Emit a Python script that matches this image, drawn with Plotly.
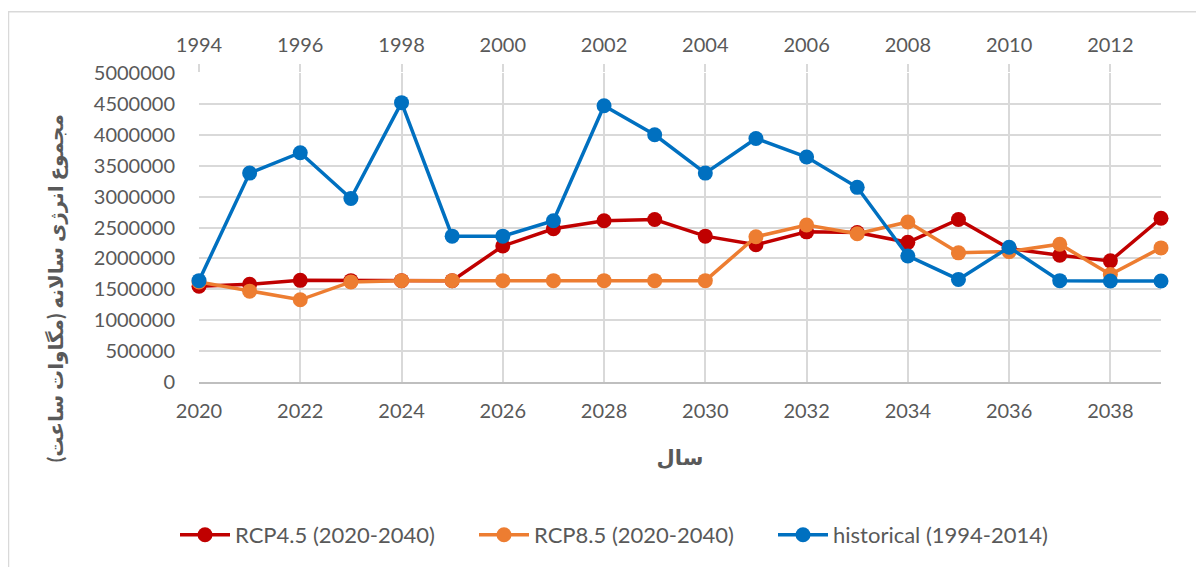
import plotly.graph_objects as go

years_future = list(range(2020, 2040))
years_hist = list(range(1994, 2014))

rcp45 = [1550000, 1580000, 1645000, 1640000, 1640000, 1640000, 2200000, 2480000, 2610000, 2630000,
         2360000, 2220000, 2430000, 2420000, 2260000, 2630000, 2160000, 2050000, 1960000, 2650000]
rcp85 = [1620000, 1470000, 1330000, 1620000, 1640000, 1640000, 1640000, 1640000, 1640000, 1640000,
         1640000, 2350000, 2540000, 2400000, 2590000, 2090000, 2110000, 2230000, 1740000, 2170000]
historical = [1640000, 3380000, 3710000, 2970000, 4520000, 2360000, 2360000, 2610000, 4470000, 4000000,
              3380000, 3940000, 3640000, 3150000, 2040000, 1660000, 2180000, 1640000, 1635000, 1635000]

names = ["RCP4.5 (2020-2040)", "RCP8.5 (2020-2040)", "historical (1994-2014)"]
colors = ["#C00000", "#ED7D31", "#0070C0"]

y_title = "مجموع انرژی سالانه (مگاوات ساعت)"
x_title = "سال"

FONT = "Lato, DejaVu Sans, sans-serif"
TXT = "#595959"
GRID = "#D9D9D9"

fig = go.Figure()
for vals, nm, col in [(rcp45, names[0], colors[0]), (rcp85, names[1], colors[1])]:
    fig.add_trace(go.Scatter(x=years_future, y=vals, name=nm, mode="lines+markers",
                             line=dict(color=col, width=3.5), marker=dict(size=15, color=col),
                             cliponaxis=False, xaxis="x", yaxis="y"))
fig.add_trace(go.Scatter(x=years_hist, y=historical, name=names[2], mode="lines+markers",
                         line=dict(color=colors[2], width=3.5), marker=dict(size=15, color=colors[2]),
                         cliponaxis=False, xaxis="x2", yaxis="y"))

# page body has an 8px margin; size the figure so the plot area lands where the reference has it
OFF = 8
W, H = 1204 - OFF, 567 - OFF
L, R, T, B = 199 - OFF, 43, 73 - OFF, 184
pw, ph = W - L - R, H - T - B


def px_x(p):
    return (p - OFF - L) / pw


def px_y(p):
    return (ph - (p - OFF - T)) / ph


fig.update_layout(
    width=W, height=H,
    margin=dict(l=L, r=R, t=T, b=B),
    paper_bgcolor="white", plot_bgcolor="white",
    font=dict(family=FONT, size=20, color=TXT),
    showlegend=True,
    legend=dict(orientation="h", x=px_x(175), xanchor="left",
                y=px_y(535), yanchor="middle",
                font=dict(size=22, color=TXT), entrywidth=234, entrywidthmode="pixels",
                itemwidth=50, traceorder="normal"),
    xaxis=dict(range=[2020, 2039], tick0=2020, dtick=2, showgrid=True, gridcolor=GRID, gridwidth=1.5,
               showline=True, linecolor="#BFBFBF", linewidth=1.5, ticks="", zeroline=False,
               ticklabelstandoff=10,
               title=dict(text="<b>" + x_title + "</b>", font=dict(size=21, color=TXT, family=FONT),
                          standoff=30)),
    xaxis2=dict(range=[1994, 2013], tick0=1994, dtick=2, overlaying="x", side="top", anchor="y",
                showgrid=False, ticks="outside", ticklen=8, tickcolor=GRID, tickwidth=1.5,
                showline=False, zeroline=False, ticklabelstandoff=4),
    yaxis=dict(range=[0, 5000000], dtick=500000, tickformat="d", showgrid=True, gridcolor=GRID,
               gridwidth=1.5, zeroline=False, showline=False, ticks="", ticklabelstandoff=23),
    annotations=[dict(text="<b>" + y_title + "</b>", textangle=-90, xref="paper", yref="paper",
                      x=px_x(55), y=px_y(289), xanchor="center", yanchor="middle",
                      showarrow=False, font=dict(size=20, color=TXT, family=FONT))],
    shapes=[dict(type="rect", xref="paper", yref="paper",
                 x0=px_x(8.5), x1=px_x(1240), y0=-2, y1=px_y(11.5),
                 line=dict(color=GRID, width=1.5), fillcolor="rgba(0,0,0,0)", layer="below")],
)

fig.write_html("out.html")
